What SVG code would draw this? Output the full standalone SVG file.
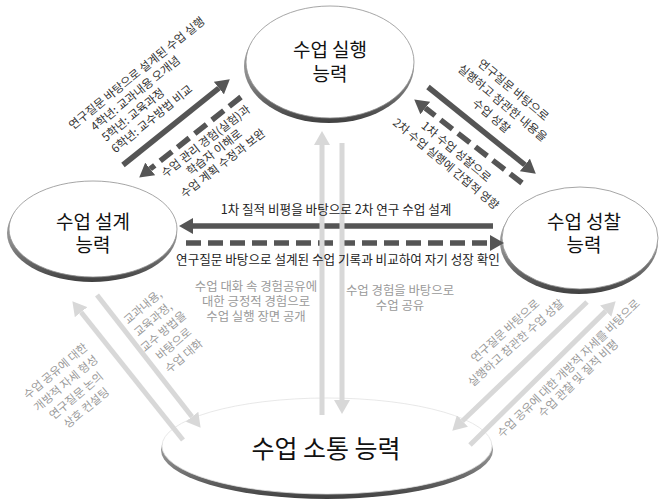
<svg xmlns="http://www.w3.org/2000/svg" width="660" height="501" viewBox="0 0 660 501">
<defs>
<linearGradient id="rim" x1="0" y1="0" x2="0" y2="1">
<stop offset="0" stop-color="#c8c8c8"/><stop offset="0.6" stop-color="#8a8a8a"/><stop offset="1" stop-color="#404040"/>
</linearGradient>
<marker id="hd" markerUnits="userSpaceOnUse" markerWidth="15" markerHeight="16" refX="0" refY="8" orient="auto">
<path d="M0,0 L14,8 L0,16 z" fill="#555"/>
</marker>
<marker id="hl" markerUnits="userSpaceOnUse" markerWidth="15" markerHeight="16" refX="0" refY="8" orient="auto">
<path d="M0,0 L14,8 L0,16 z" fill="#d8d8d8"/>
</marker>
</defs>
<style>
.rim{fill:url(#rim)}
.face{fill:#fff;stroke:#8f8f8f;stroke-width:0.8}
.nt{font-family:"Noto Sans CJK KR","Noto Sans",sans-serif;font-size:19px;fill:#111;text-anchor:middle}
.dk{fill:none;stroke:#555;stroke-width:5.5}
.ds{stroke-dasharray:15 7}
.lt{fill:none;stroke:#d8d8d8;stroke-width:5}
.t{font-family:"Noto Sans CJK KR","Noto Sans",sans-serif;font-size:11.6px;fill:#333}
.h{font-size:12.6px;fill:#222}
.g{font-family:"Noto Sans CJK KR","Noto Sans",sans-serif;font-size:11.5px;fill:#9a9a9a}
.gh{font-size:12.4px}
.m{text-anchor:middle}
</style>
<rect width="660" height="501" fill="#fff"/>

<g id="node-exec">
<ellipse class="rim" cx="329" cy="66" rx="85" ry="57"/>
<ellipse class="face" cx="330" cy="62" rx="84" ry="56"/>
<text class="nt" x="330" y="57">수업 실행</text>
<text class="nt" x="330" y="80.5">능력</text>
</g>
<g id="node-design">
<ellipse class="rim" cx="92" cy="233" rx="85" ry="49"/>
<ellipse class="face" cx="93" cy="229" rx="84" ry="48"/>
<text class="nt" x="93" y="229">수업 설계</text>
<text class="nt" x="93" y="252">능력</text>
</g>
<g id="node-reflect">
<ellipse class="rim" cx="579" cy="242" rx="79" ry="52"/>
<ellipse class="face" cx="580" cy="238" rx="78" ry="51"/>
<text class="nt" x="584" y="229">수업 성찰</text>
<text class="nt" x="584" y="252">능력</text>
</g>
<g id="node-comm">
<ellipse class="rim" cx="327" cy="450" rx="166" ry="49"/>
<ellipse class="face" cx="327" cy="446" rx="165" ry="48" style="stroke:#e2e2e2"/>
<text class="nt" x="326" y="458" style="font-size:25px">수업 소통 능력</text>
</g>

<g id="connectors">
<line class="dk" x1="123" y1="165" x2="218.9" y2="88.1" marker-end="url(#hd)"/>
<line class="dk ds" x1="241" y1="97" x2="150.2" y2="168.9" marker-end="url(#hd)"/>
<line class="dk" x1="428" y1="87" x2="524.9" y2="164.9" marker-end="url(#hd)"/>
<line class="dk ds" x1="522" y1="183" x2="425.3" y2="108" marker-end="url(#hd)"/>
<line class="dk" x1="493" y1="226" x2="193" y2="226" marker-end="url(#hd)"/>
<line class="dk ds" x1="186" y1="243" x2="490" y2="243" marker-end="url(#hd)"/>
<line class="lt" x1="322" y1="415" x2="322" y2="145" marker-end="url(#hl)"/>
<line class="lt" x1="342" y1="143" x2="342" y2="400" marker-end="url(#hl)"/>
<line class="lt" x1="183" y1="440" x2="81.1" y2="312.2" marker-end="url(#hl)"/>
<line class="lt" x1="97" y1="295" x2="192" y2="416.7" marker-end="url(#hl)"/>
<line class="lt" x1="587" y1="302" x2="462.4" y2="421" marker-end="url(#hl)"/>
<line class="lt" x1="470" y1="445" x2="605.7" y2="311.1" marker-end="url(#hl)"/>
</g>

<g id="labels">
<g transform="rotate(-39)" class="t">
<text x="-25" y="147">연구질문 바탕으로 설계된 수업 실행</text>
<text x="-9" y="162">4학년: 교과내용 오개념</text>
<text x="-7" y="177">5학년: 교육과정</text>
<text x="-7" y="192">6학년: 교수방법 비교</text>
</g>
<g transform="rotate(-38)" class="t m">
<text x="75" y="242">수업 관리 경험(실험)과</text>
<text x="75" y="256">학습자 이해로</text>
<text x="75" y="270">수업 계획 수정과 보완</text>
</g>
<g transform="rotate(40)" class="t m">
<text x="451" y="-257">연구질문 바탕으로</text>
<text x="451" y="-240">실행하고 참관한 내용을</text>
<text x="451" y="-223">수업 성찰</text>
<text x="447" y="-173">1차 수업 성찰으로</text>
<text x="447" y="-157">2차 수업 실행에 간접적 영향</text>
</g>
<text class="t h m" x="336" y="214">1차 질적 비평을 바탕으로 2차 연구 수업 설계</text>
<text class="t h m" x="338" y="264">연구질문 바탕으로 설계된 수업 기록과 비교하여 자기 성장 확인</text>

<g class="g gh m">
<text x="256" y="291">수업 대화 속 경험공유에</text>
<text x="256" y="306">대한 긍정적 경험으로</text>
<text x="256" y="321">수업 실행 장면 공개</text>
<text x="400" y="295">수업 경험을 바탕으로</text>
<text x="400" y="310">수업 공유</text>
</g>
<g transform="rotate(-40)" class="g m">
<text x="-196" y="324">수업 공유에 대한</text>
<text x="-196" y="340">개방적 자세 형성</text>
<text x="-196" y="356">연구질문 논의</text>
<text x="-196" y="372">상호 컨설팅</text>
<text x="-88" y="331">교과내용,</text>
<text x="-88" y="347">교육과정,</text>
<text x="-88" y="363">교수 방법을</text>
<text x="-88" y="379">바탕으로</text>
<text x="-88" y="395">수업 대화</text>
</g>
<g transform="rotate(-42)" class="g m">
<text x="154" y="588">연구질문 바탕으로</text>
<text x="154" y="604">실행하고 참관한 수업 성찰</text>
</g>
<g transform="rotate(-44)" class="g m">
<text x="153" y="664">수업 공유에 대한 개방적 자세를 바탕으로</text>
<text x="153" y="678">수업 관찰 및 질적 비평</text>
</g>
</g>
</svg>
